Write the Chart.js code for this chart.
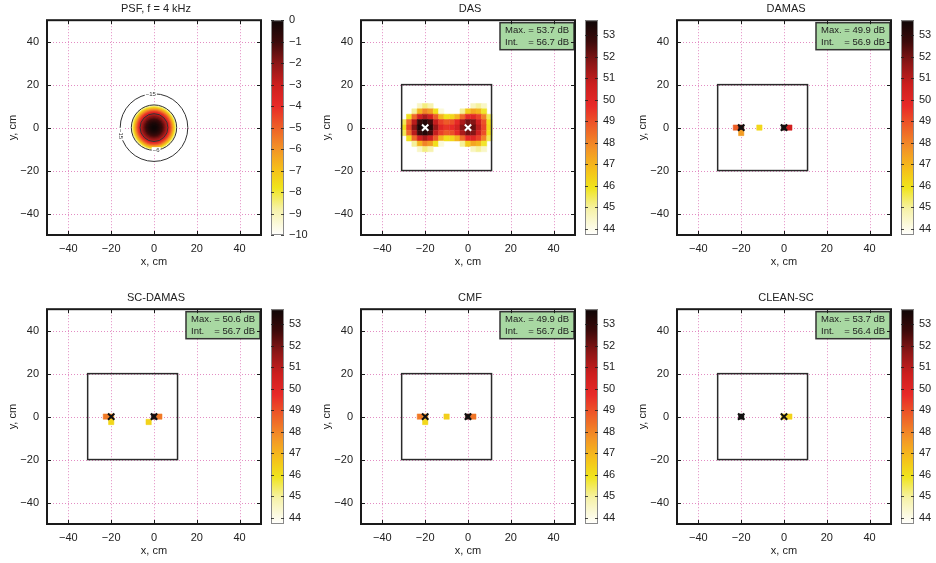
<!DOCTYPE html>
<html><head><meta charset="utf-8">
<script src="https://cdn.jsdelivr.net/npm/chart.js@4/dist/chart.umd.min.js"></script>
<style>
html,body{margin:0;padding:0;background:#fff;}
#wrap{position:relative;width:936px;height:563px;overflow:hidden;background:#fff;}
canvas{position:absolute;}
</style></head><body><div id="wrap"></div>
<script>
// ---------------- data ----------------
const panelTitles = ['PSF, f = 4 kHz', 'DAS', 'DAMAS', 'SC-DAMAS', 'CMF', 'CLEAN-SC'];
const axisTicks = [-40, -20, 0, 20, 40];
const psfBarTicks = [-10, -9, -8, -7, -6, -5, -4, -3, -2, -1, 0];
const dbBarTicks = [44, 45, 46, 47, 48, 49, 50, 51, 52, 53];
const psfRange = [-10, 0];
const dbRange = [43.7, 53.7];
const panelMax = [null, 53.7, 49.9, 50.6, 49.9, 53.7];
const panelInt = [null, 56.7, 56.9, 56.7, 56.7, 56.4];
const sourceX = [-20, 0];
const sourceY = [0, 0];
const scanBox = [-31, 11, -20, 20]; // x min, x max, y min, y max (cm)
const gridStep = 2.5; // cm

// PSF main lobe, radial profile (cm -> dB)
const psfRadius = [0, 0.5, 1, 1.5, 2, 2.5, 3, 3.5, 4, 4.5, 5, 5.5, 6, 6.5, 7, 7.5, 8, 8.5, 9, 9.5, 10, 10.5, 11];
const psfLevel  = [0, -0.02, -0.08, -0.17, -0.3, -0.45, -0.65, -0.88, -1.12, -1.45, -1.8, -2.2, -2.6, -3.0, -3.6, -4.3, -5.0, -5.8, -6.6, -7.5, -8.4, -9.3, -10];
const contourRadius = [6.5, 10.6, 15.8];
const contourLabelText = ['\u221215', '\u221215', '\u22126'];
const contourLabelX = [-1.5, -15.5, 1.0];
const contourLabelY = [15.6, -3.0, -10.5];

// DAS map (rows: dasY, columns: dasX), dB
const dasX = [-30, -27.5, -25, -22.5, -20, -17.5, -15, -12.5, -10, -7.5, -5, -2.5, 0, 2.5, 5, 7.5, 10];
const dasY = [10, 7.5, 5, 2.5, 0, -2.5, -5, -7.5, -10];
const dasLevel = [
  [null, null, null, 44.5, 45.2, 44.8, null, null, null, null, null, null, null, 44.6, 45.0, 44.5, null],
  [null, null, 45.0, 47.0, 48.0, 47.5, 46.0, 44.2, null, null, null, 45.0, 46.5, 47.3, 47.0, 45.8, null],
  [null, 46.0, 48.5, 50.5, 51.2, 50.5, 48.8, 47.0, 46.0, 46.2, 47.0, 48.5, 49.8, 50.0, 49.3, 48.0, 45.5],
  [45.5, 48.5, 51.0, 52.8, 53.2, 52.6, 50.8, 49.3, 48.8, 49.0, 49.8, 51.2, 52.0, 51.8, 50.6, 49.0, 46.0],
  [46.0, 49.2, 51.8, 53.4, 53.7, 53.2, 51.5, 50.0, 49.5, 49.7, 50.4, 51.8, 52.6, 52.2, 51.0, 49.2, 46.2],
  [45.5, 48.5, 51.0, 52.8, 53.2, 52.6, 50.8, 49.3, 48.8, 49.0, 49.8, 51.2, 52.0, 51.8, 50.6, 49.0, 46.0],
  [null, 46.0, 48.5, 50.5, 51.2, 50.5, 48.8, 47.0, 46.0, 46.2, 47.0, 48.5, 49.8, 50.0, 49.3, 48.0, 45.5],
  [null, null, 45.0, 47.0, 48.0, 47.5, 46.0, 44.2, null, null, null, 45.0, 46.5, 47.3, 47.0, 45.8, null],
  [null, null, null, 44.5, 45.2, 44.8, null, null, null, null, null, null, null, 44.6, 45.0, 44.5, null]
];

// sparse maps
const damasX = [-22.5, -20, -20, -11.5, 0, 2.5];
const damasY = [0, 0, -2.5, 0, 0, 0];
const damasLevel = [48.7, 52.5, 47.5, 46.2, 53.0, 50.5];

const scDamasX = [-22.5, -20, -20, 0, 2.5, -2.5];
const scDamasY = [0, 0, -2.5, 0, 0, -2.5];
const scDamasLevel = [48.2, 48.0, 46.2, 52.5, 48.2, 46.3];

const cmfX = [-22.5, -20, -20, -10, 0, 2.5];
const cmfY = [0, 0, -2.5, 0, 0, 0];
const cmfLevel = [48.2, 47.8, 46.2, 46.4, 52.6, 48.3];

const cleanX = [-20, 0, 2.5];
const cleanY = [0, 0, 0];
const cleanLevel = [53.7, 46.5, 46.3];

// ---------------- styling ----------------
const FONT = "'Liberation Sans', Arial, Helvetica, sans-serif";
Chart.defaults.font.family = FONT;
Chart.defaults.font.size = 11;
Chart.defaults.color = '#222';

const cmapStops = [[0, '#ffffff'], [0.12, '#f6f2a8'], [0.22, '#f0e41c'], [0.3, '#f5c21a'], [0.4, '#f39426'],
  [0.5, '#ee6028'], [0.6, '#e82a28'], [0.7, '#cc1e1e'], [0.8, '#8c1616'], [0.9, '#3c0a0a'], [1, '#0e0606']];
function hexToRgb(h) { return [1, 3, 5].map(i => parseInt(h.substr(i, 2), 16)); }
const stopsRgb = cmapStops.map(([t, c]) => [t, hexToRgb(c)]);
function cmap(t) {
  t = Math.max(0, Math.min(1, t));
  for (let i = 1; i < stopsRgb.length; i++) {
    if (t <= stopsRgb[i][0]) {
      const [t0, c0] = stopsRgb[i - 1], [t1, c1] = stopsRgb[i];
      const f = (t - t0) / (t1 - t0);
      return 'rgb(' + c0.map((v, k) => Math.round(v + (c1[k] - v) * f)).join(',') + ')';
    }
  }
  return 'rgb(14,6,6)';
}
function fmt(v) { return v < 0 ? '\u2212' + Math.abs(v) : String(v); }

function zip(xs, ys, vs) { return xs.map((x, i) => ({ x: x, y: ys[i], v: vs[i] })); }
const dasCells = [];
dasY.forEach((y, r) => dasX.forEach((x, c) => { if (dasLevel[r][c] !== null) dasCells.push({ x: x, y: y, v: dasLevel[r][c] }); }));

const panels = [
  { kind: 'psf' },
  { kind: 'map', cells: dasCells, mark: '#ffffff' },
  { kind: 'map', cells: zip(damasX, damasY, damasLevel), mark: '#111' },
  { kind: 'map', cells: zip(scDamasX, scDamasY, scDamasLevel), mark: '#111' },
  { kind: 'map', cells: zip(cmfX, cmfY, cmfLevel), mark: '#111' },
  { kind: 'map', cells: zip(cleanX, cleanY, cleanLevel), mark: '#111' }
];

const colLeft = [0, 314, 630];
const rowTop = [0, 289];
const W = 312, H = 271;

function pxLen(chart, cm) {
  const s = chart.scales.x;
  return Math.abs(s.getPixelForValue(cm) - s.getPixelForValue(0));
}
function noPad(s) { s.paddingTop = 0; s.paddingBottom = 0; s.paddingLeft = 0; s.paddingRight = 0; }

function makeDecor(idx, range) {
  return {
    id: 'decor' + idx,
    beforeDatasetsDraw(chart) {
      const { ctx, chartArea: a, scales: { x, y } } = chart;
      ctx.save();
      ctx.strokeStyle = 'rgba(222,120,185,0.85)';
      ctx.lineWidth = 1;
      ctx.setLineDash([1, 2]);
      axisTicks.forEach(v => {
        const px = Math.round(x.getPixelForValue(v)) + 0.5;
        ctx.beginPath(); ctx.moveTo(px, a.top); ctx.lineTo(px, a.bottom); ctx.stroke();
        const py = Math.round(y.getPixelForValue(v)) + 0.5;
        ctx.beginPath(); ctx.moveTo(a.left, py); ctx.lineTo(a.right, py); ctx.stroke();
      });
      ctx.restore();
    },
    afterDatasetsDraw(chart) {
      const { ctx, chartArea: a, scales: { x, y } } = chart;
      ctx.save();
      if (idx > 0) {
        // scan region box
        ctx.strokeStyle = '#2a2a2a'; ctx.lineWidth = 1.5;
        const x0 = x.getPixelForValue(scanBox[0]), x1 = x.getPixelForValue(scanBox[1]);
        const y0 = y.getPixelForValue(scanBox[3]), y1 = y.getPixelForValue(scanBox[2]);
        ctx.strokeRect(x0, y0, x1 - x0, y1 - y0);
        // annotation
        const bw = 74, bh = 27;
        const bx = a.right - bw - 1, by = a.top + 2.5;
        ctx.fillStyle = '#a8d8a2';
        ctx.fillRect(bx, by, bw, bh);
        ctx.strokeStyle = '#333'; ctx.lineWidth = 1.5;
        ctx.strokeRect(bx, by, bw, bh);
        ctx.fillStyle = '#222';
        ctx.font = '9.5px ' + FONT;
        ctx.textBaseline = 'middle'; ctx.textAlign = 'left';
        const eqX = bx + 5 + ctx.measureText('Max. ').width;
        ctx.fillText('Max.', bx + 5, by + 8);
        ctx.fillText('= ' + panelMax[idx].toFixed(1) + ' dB', eqX, by + 8);
        ctx.fillText('Int.', bx + 5, by + 20);
        ctx.fillText('= ' + panelInt[idx].toFixed(1) + ' dB', eqX, by + 20);
      } else {
        // contour labels
        ctx.font = '6px ' + FONT;
        ctx.textAlign = 'center'; ctx.textBaseline = 'middle';
        contourLabelText.forEach((t, i) => {
          const px = x.getPixelForValue(contourLabelX[i]), py = y.getPixelForValue(contourLabelY[i]);
          ctx.save();
          ctx.translate(px, py);
          if (i === 1) ctx.rotate(Math.PI / 2);
          const w = ctx.measureText(t).width;
          ctx.fillStyle = '#fff';
          ctx.fillRect(-w / 2 - 1, -3, w + 2, 6);
          ctx.fillStyle = '#333';
          ctx.fillText(t, 0, 0);
          ctx.restore();
        });
      }
      // frame
      ctx.strokeStyle = '#1a1a1a'; ctx.lineWidth = 2; ctx.setLineDash([]);
      ctx.strokeRect(a.left, a.top, a.right - a.left, a.bottom - a.top);
      ctx.lineWidth = 1;
      axisTicks.forEach(v => {
        const px = Math.round(x.getPixelForValue(v)) + 0.5;
        ctx.beginPath(); ctx.moveTo(px, a.bottom); ctx.lineTo(px, a.bottom - 4);
        ctx.moveTo(px, a.top); ctx.lineTo(px, a.top + 4); ctx.stroke();
        const py = Math.round(y.getPixelForValue(v)) + 0.5;
        ctx.beginPath(); ctx.moveTo(a.left, py); ctx.lineTo(a.left + 4, py);
        ctx.moveTo(a.right, py); ctx.lineTo(a.right - 4, py); ctx.stroke();
      });
      ctx.restore();
    },
    afterDraw(chart) {
      const { ctx, chartArea: a, scales: { cb } } = chart;
      const bx = a.right + 10, bw = 13;
      const yTop = cb.getPixelForValue(range[1]), yBot = cb.getPixelForValue(range[0]);
      const g = ctx.createLinearGradient(0, yBot, 0, yTop);
      cmapStops.forEach(([t, c]) => g.addColorStop(t, c));
      ctx.save();
      ctx.fillStyle = g;
      ctx.fillRect(bx, yTop, bw, yBot - yTop);
      ctx.strokeStyle = '#8a8a8a'; ctx.lineWidth = 1;
      ctx.strokeRect(bx + 0.5, yTop + 0.5, bw - 1, yBot - yTop - 1);
      ctx.strokeStyle = 'rgba(30,30,30,0.8)';
      cb.ticks.forEach(tk => {
        const py = Math.round(cb.getPixelForValue(tk.value)) + 0.5;
        ctx.beginPath(); ctx.moveTo(bx, py); ctx.lineTo(bx + 3, py);
        ctx.moveTo(bx + bw, py); ctx.lineTo(bx + bw - 3, py); ctx.stroke();
      });
      ctx.restore();
    }
  };
}

const wrap = document.getElementById('wrap');
panels.forEach((p, idx) => {
  const cv = document.createElement('canvas');
  cv.width = W; cv.height = H;
  cv.style.left = colLeft[idx % 3] + 'px';
  cv.style.top = rowTop[Math.floor(idx / 3)] + 'px';
  cv.style.width = W + 'px'; cv.style.height = H + 'px';
  wrap.appendChild(cv);

  const range = p.kind === 'psf' ? psfRange : dbRange;
  const barTicks = p.kind === 'psf' ? psfBarTicks : dbBarTicks;
  let datasets;
  if (p.kind === 'psf') {
    const order = psfRadius.map((r, i) => i).reverse();
    datasets = [
      {
        label: 'contours', order: 0,
        data: contourRadius.map(() => ({ x: 0, y: 0 })),
        pointStyle: 'circle',
        pointRadius: c => pxLen(c.chart, contourRadius[c.dataIndex]),
        backgroundColor: 'rgba(0,0,0,0)', borderColor: '#333', borderWidth: 1
      },
      {
        label: 'psf', order: 1,
        data: order.map(i => ({ x: 0, y: 0, r: psfRadius[i], v: psfLevel[i] })),
        pointStyle: 'circle',
        pointRadius: c => pxLen(c.chart, c.raw.r + 0.25),
        backgroundColor: c => cmap((c.raw.v - range[0]) / (range[1] - range[0])),
        borderWidth: 0
      }
    ];
  } else {
    datasets = [
      {
        label: 'sources', order: 0,
        data: sourceX.map((x, i) => ({ x: x, y: sourceY[i] })),
        pointStyle: 'crossRot', pointRadius: 4.5, borderWidth: 2,
        borderColor: p.mark, backgroundColor: p.mark
      },
      {
        label: 'map', order: 1,
        data: p.cells,
        pointStyle: 'rect',
        pointRadius: c => pxLen(c.chart, gridStep) / Math.SQRT2,
        backgroundColor: c => cmap((c.raw.v - range[0]) / (range[1] - range[0])),
        borderColor: c => cmap((c.raw.v - range[0]) / (range[1] - range[0])),
        borderWidth: 0.5
      }
    ];
  }

  new Chart(cv, {
    type: 'scatter',
    data: { datasets: datasets },
    options: {
      responsive: false, animation: false, events: [],
      layout: { padding: 0 },
      plugins: {
        legend: { display: false }, tooltip: { enabled: false },
        title: { display: true, text: panelTitles[idx], font: { size: 11, weight: 'normal' }, color: '#222', padding: { top: 2, bottom: 5 } }
      },
      scales: {
        x: {
          type: 'linear', min: -50, max: 50,
          afterBuildTicks: s => { s.ticks = axisTicks.map(v => ({ value: v })); },
          afterFit: s => { s.height = 36; noPad(s); },
          ticks: { callback: v => fmt(v), padding: 7, maxRotation: 0, autoSkip: false, color: '#222' },
          grid: { display: false, drawTicks: false }, border: { display: false },
          title: { display: true, text: 'x, cm', color: '#222', font: { size: 11 }, padding: { top: 0, bottom: 2 } }
        },
        y: {
          type: 'linear', min: -50, max: 50, position: 'left',
          afterBuildTicks: s => { s.ticks = axisTicks.map(v => ({ value: v })); },
          afterFit: s => { s.width = 47; noPad(s); },
          ticks: { callback: v => fmt(v), padding: 8, autoSkip: false, color: '#222' },
          grid: { display: false, drawTicks: false }, border: { display: false },
          title: { display: true, text: 'y, cm', color: '#222', font: { size: 11 }, padding: { top: 6, bottom: 0 } }
        },
        cb: {
          type: 'linear', min: range[0], max: range[1], position: 'right',
          afterBuildTicks: s => { s.ticks = barTicks.map(v => ({ value: v })); },
          afterFit: s => { s.width = 51; noPad(s); },
          ticks: { callback: v => fmt(v), padding: 28, autoSkip: false, color: '#222' },
          grid: { display: false, drawTicks: false }, border: { display: false }
        }
      }
    },
    plugins: [makeDecor(idx, range)]
  });
});
</script>
</body></html>
